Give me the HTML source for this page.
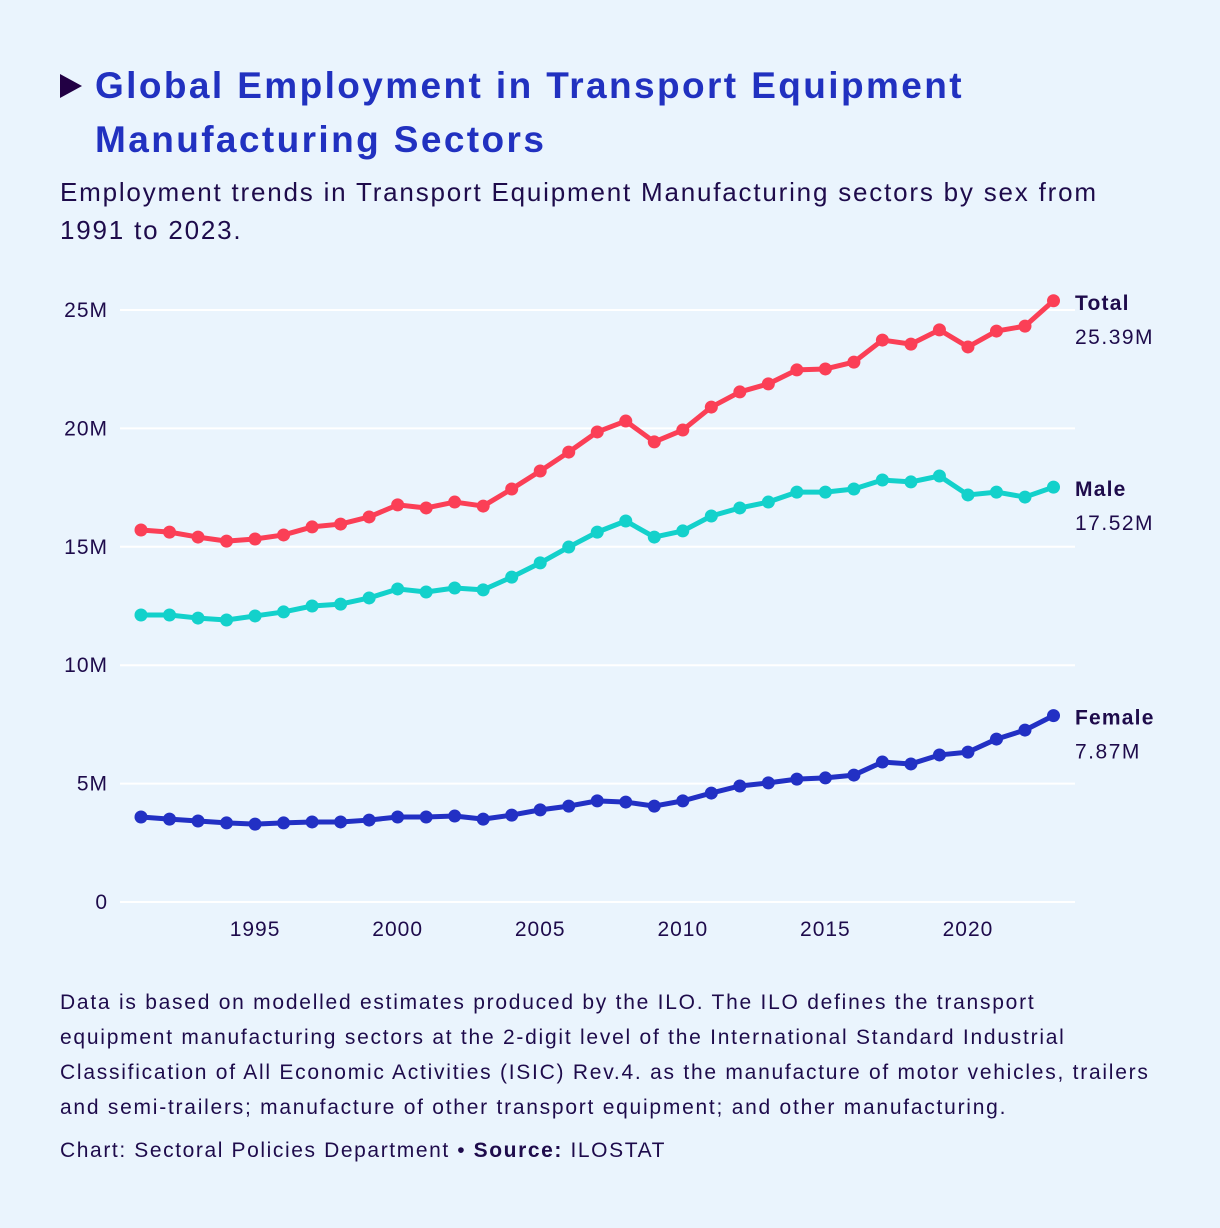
<!DOCTYPE html>
<html><head><meta charset="utf-8"><style>
body{margin:0;background:#eaf4fd;font-family:"Liberation Sans",sans-serif;color:#1e0b4b;}
#wrap{position:relative;width:1220px;height:1228px;overflow:hidden;}
.t{position:absolute;margin:0;white-space:nowrap;}
</style></head><body>
<div id="wrap">
<svg class="t" style="left:60px;top:74px" width="24" height="26"><polygon points="0,0 22,12 0,24" fill="#220044"/></svg>
<h1 class="t" style="left:95px;top:59px;font-size:37px;line-height:54px;font-weight:bold;color:#2131c0;letter-spacing:2.4px;">Global Employment in Transport Equipment<br>Manufacturing Sectors</h1>
<p class="t" style="left:60px;top:173px;font-size:26px;line-height:38px;letter-spacing:1.8px;">Employment trends in Transport Equipment Manufacturing sectors by sex from<br>1991 to 2023.</p>
<svg id="chart" class="t" style="left:0;top:0" width="1220" height="960"></svg>
<p class="t" style="left:60px;top:985px;font-size:21px;line-height:35px;letter-spacing:1.75px;">Data is based on modelled estimates produced by the ILO. The ILO defines the transport<br>equipment manufacturing sectors at the 2-digit level of the International Standard Industrial<br>Classification of All Economic Activities (ISIC) Rev.4. as the manufacture of motor vehicles, trailers<br>and semi-trailers; manufacture of other transport equipment; and other manufacturing.</p>
<p class="t" style="left:60px;top:1136px;font-size:21px;line-height:30px;letter-spacing:1.6px;">Chart: Sectoral Policies Department • <b>Source:</b> ILOSTAT</p>
</div>
<script>
const years=[1991,1992,1993,1994,1995,1996,1997,1998,1999,2000,2001,2002,2003,2004,2005,2006,2007,2008,2009,2010,2011,2012,2013,2014,2015,2016,2017,2018,2019,2020,2021,2022,2023];
const totalVals=[15.71,15.62,15.41,15.24,15.33,15.5,15.84,15.96,16.26,16.77,16.64,16.89,16.72,17.44,18.2,19.0,19.85,20.31,19.43,19.93,20.9,21.54,21.88,22.47,22.51,22.8,23.73,23.56,24.16,23.44,24.11,24.32,25.39];
const maleVals=[12.12,12.12,11.99,11.91,12.08,12.25,12.5,12.58,12.84,13.22,13.09,13.26,13.18,13.72,14.32,14.99,15.62,16.09,15.41,15.67,16.3,16.64,16.89,17.31,17.31,17.44,17.82,17.74,17.99,17.19,17.31,17.1,17.52];
const femaleVals=[3.59,3.5,3.42,3.34,3.29,3.34,3.38,3.38,3.46,3.59,3.59,3.63,3.5,3.67,3.89,4.05,4.27,4.22,4.05,4.27,4.6,4.9,5.03,5.19,5.24,5.36,5.91,5.83,6.21,6.33,6.88,7.26,7.87];
const yTicks=[0,5,10,15,20,25];
const yTickLabels=["0","5M","10M","15M","20M","25M"];
const xTicks=[1995,2000,2005,2010,2015,2020];
const seriesNames=["Total","Male","Female"];

const NS="http://www.w3.org/2000/svg";
const svg=document.getElementById('chart');
const x=yr=>141+(yr-1991)*(1053.5-141)/32;
const y=v=>902-v*(592/25);
function el(tag,attrs,parent){const e=document.createElementNS(NS,tag);for(const k in attrs)e.setAttribute(k,attrs[k]);(parent||svg).appendChild(e);return e;}
yTicks.forEach((t,i)=>{
  const g=el('line',{x1:120,x2:1075,y1:y(t),y2:y(t),stroke:'#ffffff','stroke-width':2});
  
  
  const tx=el('text',{x:108,y:y(t)+7,'text-anchor':'end','font-size':21,'letter-spacing':1,fill:'#1e0b4b'});
  tx.textContent=yTickLabels[i];
  
  
});
xTicks.forEach(t=>{
  const tx=el('text',{x:x(t),y:936,'text-anchor':'middle','font-size':21,'letter-spacing':1,fill:'#1e0b4b'});
  tx.textContent=t;
  
  
});
const series=[[totalVals,'#fb3f56'],[maleVals,'#13d1cb'],[femaleVals,'#2230c4']];
series.forEach(([vals,col],si)=>{
  const pl=el('polyline',{points:vals.map((v,i)=>x(years[i])+','+y(v)).join(' '),fill:'none',stroke:col,'stroke-width':5,'stroke-linejoin':'round'});
  
  
  vals.forEach((v,i)=>{
    const c=el('circle',{cx:x(years[i]),cy:y(v),r:6.5,fill:col});
    
    
  });
  const last=vals[vals.length-1];
  const n=el('text',{x:1075,y:y(last)+9,'font-size':21,'font-weight':'bold','letter-spacing':1.2,fill:'#1e0b4b'});
  n.textContent=seriesNames[si];
  
  
  const vv=el('text',{x:1075,y:y(last)+43,'font-size':21,'letter-spacing':1.5,fill:'#1e0b4b'});
  vv.textContent=last.toFixed(2)+'M';
  
  
});
</script>
</body></html>
